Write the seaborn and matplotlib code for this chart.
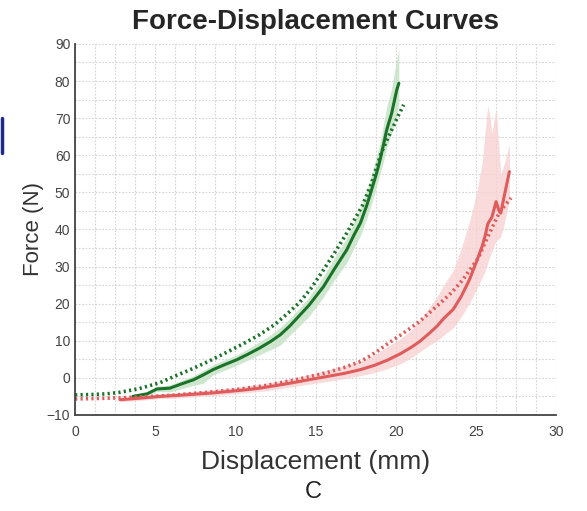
import numpy as np
import pandas as pd
import matplotlib
matplotlib.use("Agg")
import matplotlib.pyplot as plt
from matplotlib.ticker import MultipleLocator
from matplotlib.lines import Line2D
import seaborn as sns

# green group: mean curve with band, and fitted curve
green_x = [3.6, 4.5, 5.1, 5.9, 6.6, 7.4, 8.0, 8.6, 9.3, 10.1, 10.8, 11.5, 12.2, 12.8, 13.4,
           14.0, 14.6, 15.5, 16.2, 16.95, 17.4, 17.8, 18.2, 18.5, 18.8, 19.03, 19.25, 19.44,
           19.75, 20.07, 20.2]
green_mean = [-5.0, -4.3, -3.0, -2.8, -1.7, -0.5, 0.8, 2.2, 3.5, 4.9, 6.4, 8.0, 9.8, 11.6, 14.0,
              16.8, 19.6, 24.6, 29.5, 34.5, 38.5, 41.7, 46.5, 50.7, 55.0, 58.8, 63.0, 66.8,
              71.3, 77.6, 79.4]
green_low = [-5.3, -4.8, -3.7, -3.8, -3.0, -2.0, -1.5, 0.8, 2.0, 3.4, 4.8, 6.2, 7.6, 8.8, 11.5,
             14.0, 16.6, 21.8, 26.5, 31.0, 35.0, 38.3, 43.0, 47.0, 51.5, 55.0, 58.5, 62.0,
             66.0, 71.0, 74.0]
green_high = [-4.7, -3.8, -2.3, -1.9, -0.8, 0.6, 2.0, 3.5, 4.8, 6.2, 7.9, 9.7, 11.6, 13.6, 16.0,
              18.8, 21.8, 27.4, 32.5, 37.8, 42.0, 45.5, 50.5, 55.0, 59.5, 63.5, 68.5, 73.0,
              78.0, 86.0, 88.5]
green_fit_x = [0, 1, 2, 2.8, 4, 5.3, 6.3, 7.4, 8.4, 9.46, 10.5, 11.5, 12.5, 13.4, 14.0, 14.7,
               15.5, 16.2, 16.95, 17.9, 18.5, 19.1, 19.5, 19.86, 20.2, 20.5]
green_fit = [-4.6, -4.5, -4.3, -3.9, -2.9, -1.3, 0.6, 2.6, 4.6, 6.9, 9.2, 11.6, 14.5, 17.9,
             20.3, 24.0, 29.1, 33.8, 39.0, 46.2, 52.5, 60.6, 64.5, 67.8, 71.0, 73.6]

# red group
red_x = [2.8, 4.0, 5.3, 6.5, 7.5, 8.5, 9.5, 10.5, 11.5, 12.5, 13.6, 14.6, 15.7, 16.8, 17.8,
         18.7, 19.5, 20.3, 21.0, 21.5, 22.1, 22.6, 23.0, 23.6, 24.1, 24.6, 25.06, 25.4, 25.6,
         25.75, 25.9, 26.0, 26.27, 26.45, 26.56, 26.8, 27.1]
red_mean = [-5.9, -5.5, -5.0, -4.7, -4.4, -4.1, -3.7, -3.3, -2.8, -2.1, -1.3, -0.5, 0.35, 1.2,
            2.2, 3.4, 4.8, 6.5, 8.3, 9.8, 12.0, 14.0, 16.0, 18.5, 22.0, 26.4, 31.5, 35.5, 38.5,
            41.5, 42.6, 43.2, 47.5, 45.0, 44.4, 49.5, 55.6]
red_low = [-6.4, -6.1, -5.6, -5.4, -5.1, -4.8, -4.5, -4.1, -3.7, -3.1, -2.4, -1.7, -1.0, -0.2,
           0.6, 1.4, 2.5, 3.8, 5.5, 7.0, 8.8, 10.0, 11.5, 13.5, 16.5, 20.0, 24.0, 27.0, 29.0,
           31.0, 33.0, 34.0, 37.0, 37.5, 38.0, 42.0, 48.0]
red_high = [-5.4, -5.0, -4.4, -4.0, -3.6, -3.2, -2.8, -2.3, -1.8, -1.0, -0.1, 0.9, 2.0, 3.2,
            4.5, 6.2, 8.5, 10.5, 13.0, 15.5, 19.0, 22.0, 25.0, 29.0, 35.0, 42.0, 50.0, 58.0,
            67.0, 73.5, 70.0, 66.0, 72.5, 62.0, 55.0, 58.0, 63.0]
red_fit_x = [0, 2, 4, 6, 8, 10, 12, 14, 15.7, 16.8, 17.8, 18.4, 19.0, 19.6, 20.3, 21.5, 22.77,
             23.5, 24.2, 25.16, 25.8, 26.5, 27.2]
red_fit = [-5.7, -5.5, -5.2, -4.7, -4.0, -3.2, -2.0, -0.3, 1.4, 2.8, 4.4, 5.9, 7.6, 9.5,
           11.5, 15.2, 20.1, 23.0, 26.5, 32.3, 38.5, 44.8, 48.5]

green_dark = "#1a7328"
green_band = "#c4e2c4"
red_line = "#e05c5c"
red_band = "#f8d2d2"

sns.set_style("white")
plt.rcParams["font.family"] = ["Liberation Sans", "DejaVu Sans"]

fig = plt.figure(figsize=(5.87, 5.11), dpi=100)
ax = fig.add_axes([0.128, 0.188, 0.819, 0.726])

ax.fill_between(green_x, green_low, green_high, color=green_band, alpha=0.8, lw=0)
ax.fill_between(red_x, red_low, red_high, color=red_band, alpha=0.8, lw=0)

sns.lineplot(x=green_x, y=green_mean, ax=ax, color=green_dark, lw=2.2, sort=False)
sns.lineplot(x=red_x, y=red_mean, ax=ax, color=red_line, lw=2.2, sort=False)
sns.lineplot(x=green_fit_x, y=green_fit, ax=ax, color=green_dark, lw=2.6,
             linestyle=(0, (0.6, 0.9)), sort=False)
sns.lineplot(x=red_fit_x, y=red_fit, ax=ax, color=red_line, lw=2.6,
             linestyle=(0, (0.6, 0.9)), sort=False)

ax.set_xlim(0, 30)
ax.set_ylim(-10, 90)
ax.xaxis.set_major_locator(MultipleLocator(5))
ax.xaxis.set_minor_locator(MultipleLocator(1.25))
ax.yaxis.set_major_locator(MultipleLocator(10))
ax.yaxis.set_minor_locator(MultipleLocator(5))
ax.grid(which="both", color="#d4d4d4", linestyle=(0, (1.5, 1.5)), lw=0.8)
ax.set_axisbelow(True)
ax.tick_params(which="major", direction="in", length=4, width=1.2, color="#444444",
               labelsize=10, labelcolor="#444444")
ax.tick_params(axis="x", pad=7)
ax.tick_params(which="minor", length=0)
for s in ["top", "right"]:
    ax.spines[s].set_visible(False)
for s in ["left", "bottom"]:
    ax.spines[s].set_color("#444444")
    ax.spines[s].set_linewidth(1.3)

ax.set_xlabel("Displacement (mm)", fontsize=19, color="#333333", labelpad=8)
ax.set_ylabel("Force (N)", fontsize=16, color="#333333", labelpad=2)
ax.set_title("Force-Displacement Curves", fontsize=20, fontweight="bold", pad=11)

fig.text(0.533, 0.037, "C", fontsize=17, ha="center", va="center", color="#222222")
fig.add_artist(Line2D([0.003, 0.003], [0.77, 0.70], color="#1c2a8c", lw=2.5))

fig.savefig("out.png", dpi=100)
